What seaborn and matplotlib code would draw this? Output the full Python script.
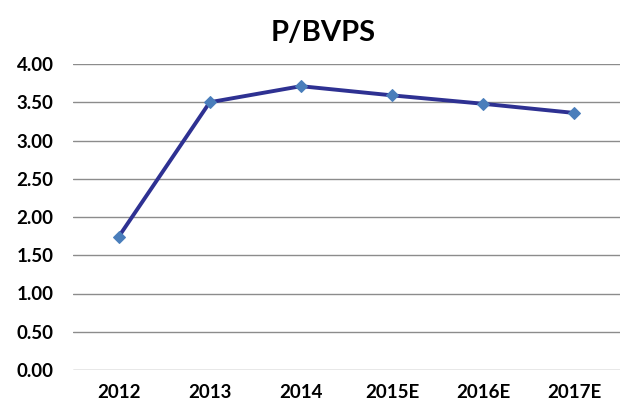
import matplotlib
matplotlib.use("Agg")
import matplotlib.pyplot as plt
import seaborn as sns
import pandas as pd

years = ["2012", "2013", "2014", "2015E", "2016E", "2017E"]
pbvps = [1.74, 3.50, 3.71, 3.59, 3.48, 3.36]
yticks = [0.0, 0.5, 1.0, 1.5, 2.0, 2.5, 3.0, 3.5, 4.0]

sns.set_style("white")
plt.rcParams['font.family'] = ['Lato', 'DejaVu Sans']
plt.rcParams['text.color'] = 'black'
plt.rcParams['xtick.color'] = 'black'
plt.rcParams['ytick.color'] = 'black'

df = pd.DataFrame({"year": years, "value": pbvps})

fig = plt.figure(figsize=(6.2, 4.08), dpi=100)
ax = fig.add_axes([73 / 620, 1 - 370 / 408, 547 / 620, 306 / 408])

sns.lineplot(data=df, x="year", y="value", ax=ax, sort=False,
             color="#2E3192", linewidth=2.8, marker="D", markersize=6,
             markerfacecolor="#4A7EBB", markeredgecolor="#4A7EBB", zorder=3)

ax.set_xlim(-0.5, len(years) - 0.5)
ax.set_ylim(0, 4)
ax.set_yticks(yticks)
ax.set_yticklabels([f"{t:.2f}" for t in yticks])
ax.grid(axis="y", color="#8C8C8C", linewidth=1)
ax.grid(axis="x", visible=False)
for s in ax.spines.values():
    s.set_visible(False)
ax.tick_params(axis="y", length=0, labelsize=13.5, pad=14)
ax.tick_params(axis="x", length=0, labelsize=13.5, pad=10)
for lbl in ax.get_xticklabels() + ax.get_yticklabels():
    lbl.set_fontweight("bold")
ax.set_xlabel("")
ax.set_ylabel("")

fig.text(323 / 620, 1 - 33 / 408, "P/BVPS", ha="center", va="center",
         fontsize=21, fontweight="bold")

fig.savefig("out.png", dpi=100)
